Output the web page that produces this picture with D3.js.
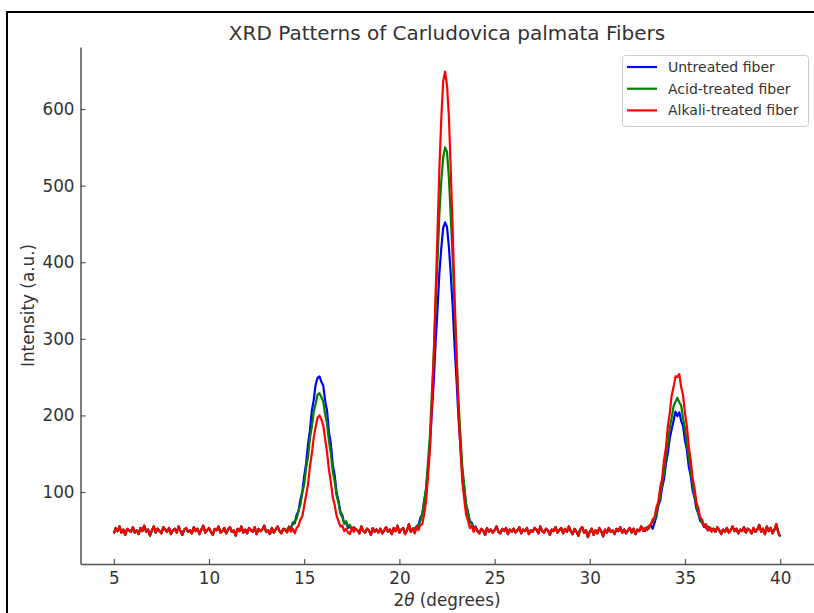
<!DOCTYPE html>
<html>
<head>
<meta charset="utf-8">
<script src="https://cdn.jsdelivr.net/npm/d3@7"></script>
<style>
  body { margin: 0; background: #fff; }
  svg { display: block; font-family: "DejaVu Sans", sans-serif; }
</style>
</head>
<body>
<svg id="chart"></svg>
<script>
const baseline = [
  46,53,49,55,47,51,44,52,50,48,
  54,47,50,45,53,49,56,48,51,43,
  50,55,47,52,49,46,54,51,48,53,
  45,50,52,47,55,49,44,51,53,48,
  50,46,54,49,52,45,51,56,47,50,
  53,48,44,52,50,55,47,49,53,46,
  51,54,48,50,43,52,49,55,47,51,
  46,53,50,48,54,45,52,49,51,56,
  48,50,45,53,47,51,55,49,46,52,
  50,47,54,48,52,45,51,49,53,47,
  49,52,46,51,48,53,50,45,54,47,
  51,48,53,46,50,55,49,52,44,50,
  53,47,51,49,45,54,48,52,50,46,
  55,49,47,52,50,44,53,48,51,47,
  52,46,50,54,48,51,45,53,49,56,
  47,51,53,45,50,58,48,52,46,55,
  49,53,47,51,50,54,48,52,46,50,
  51,47,53,49,45,52,50,54,48,51,
  46,52,49,55,47,50,53,45,51,48,
  54,49,46,52,50,44,53,48,51,47,
  50,55,48,46,52,49,53,45,51,48,
  52,47,50,54,46,51,49,53,45,50,
  48,53,51,46,55,49,47,52,50,44,
  51,49,54,47,50,53,46,52,48,55,
  49,45,52,48,43,51,54,47,50,41,
  48,52,44,50,46,53,49,42,51,47,
  53,48,50,45,52,49,54,47,51,46,
  50,53,47,52,45,51,49,55,48,52,
  47,51,49,53,46,50,52,48,54,49,
  51,48,53,47,50,52,49,46,53,50,
  52,49,47,53,50,46,51,48,55,50,
  47,53,49,51,46,52,48,54,50,45,
  51,48,53,47,50,55,49,52,46,51,
  49,54,47,52,50,46,53,48,51,57,
  48,52,45,55,49,53,46,51,58,47,
  42
];

// where each peak window starts (2theta), values below go in steps of 0.1
const peakStarts = [14.0, 20.8, 32.8];

const untreatedPeaks = [
  [51,48,55,52,60,59,70,75,90,100,121,137,162,180,206,220,240,249,251,244,239,219,206,178,163,136,122,99,89,74,70,59,60,53,56,50,54],
  [52,55,57,66,71,88,103,131,160,203,243,295,338,386,418,445,452,446,420,383,342,290,247,198,163,127,106,84,74,62,60,53,55],
  [51,49,53,55,57,52,60,68,82,89,106,117,137,151,170,182,193,205,199,204,193,186,167,155,133,121,102,93,78,72,62,61,54,56,50,53,49]
];
const acidPeaks = [
  [52,49,54,53,58,62,65,76,83,99,110,131,146,170,185,205,215,227,229,224,218,201,189,166,150,127,114,95,86,72,67,59,62,55,57,50,53],
  [53,51,56,62,71,88,105,138,173,225,277,343,401,463,506,537,550,544,510,458,405,339,281,221,177,134,109,84,73,61,58,52,54],
  [52,50,54,52,58,61,64,72,85,94,111,125,147,162,184,197,212,218,223,217,213,196,183,162,147,126,112,94,84,71,67,59,58,53,55,50,52]
];
const alkaliPeaks = [
  [50,47,54,48,52,46,53,56,64,68,82,96,110,133,150,171,185,197,200,195,187,169,152,129,113,93,83,69,62,55,56,49,52,47,45,54,48],
  [46,55,50,57,58,71,88,119,154,211,275,357,437,522,588,636,649,631,590,518,441,353,279,207,158,115,92,71,63,53,56,48,54],
  [49,53,50,56,57,64,67,80,87,106,118,142,158,186,203,226,237,251,250,254,237,226,203,186,159,142,118,105,86,79,66,64,55,58,50,54,48]
];

const seriesNames = ["Untreated fiber", "Acid-treated fiber", "Alkali-treated fiber"];
const seriesColors = ["blue", "green", "red"];
const xTicks = [5, 10, 15, 20, 25, 30, 35, 40];
const yTicks = [100, 200, 300, 400, 500, 600];

const thetaStart = 5, thetaStep = 0.1;

function buildSeries(peaks) {
    const values = baseline.slice();
    peaks.forEach((p, k) => {
        const offset = Math.round((peakStarts[k] - thetaStart) / thetaStep);
        p.forEach((v, j) => { values[offset + j] = v; });
    });
    return values.map((v, i) => [thetaStart + i * thetaStep, v]);
}

const series = [untreatedPeaks, acidPeaks, alkaliPeaks].map(buildSeries);

const WIDTH = 814, HEIGHT = 613;
const svg = d3.select("#chart")
    .attr("width", WIDTH)
    .attr("height", HEIGHT);

svg.append("rect")
    .attr("width", WIDTH)
    .attr("height", HEIGHT)
    .attr("fill", "#fff");

// screenshot frame
svg.append("path")
    .attr("d", "M7,613V12H814")
    .attr("fill", "none")
    .attr("stroke", "#000")
    .attr("stroke-width", 2);

const xScale = d3.scaleLinear()
    .domain([3.25, 41.75])
    .range([80.5, 813.5]);

const yScale = d3.scaleLinear()
    .domain([6, 681])
    .range([564, 47]);

const line = d3.line()
    .x(d => xScale(d[0]))
    .y(d => yScale(d[1]));

svg.append("g")
    .selectAll("path")
    .data(series)
    .enter()
    .append("path")
    .attr("d", line)
    .attr("fill", "none")
    .attr("stroke", (d, i) => seriesColors[i])
    .attr("stroke-width", 2.2)
    .attr("stroke-linejoin", "round");

// axes, ticks point inward
const xAxis = svg.append("g")
    .attr("transform", "translate(0,564)")
    .call(d3.axisBottom(xScale).tickValues(xTicks).tickSizeInner(-5).tickSizeOuter(0).tickPadding(8));

const yAxis = svg.append("g")
    .attr("transform", "translate(80.5,0)")
    .call(d3.axisLeft(yScale).tickValues(yTicks).tickSizeInner(-5).tickSizeOuter(0).tickPadding(6));

[xAxis, yAxis].forEach(ax => {
    ax.select(".domain").attr("stroke", "#555").attr("stroke-width", 1.5);
    ax.selectAll(".tick line").attr("stroke", "#555").attr("stroke-width", 1.2);
    ax.selectAll(".tick text")
        .attr("fill", "#333")
        .style("font-size", "16.8px")
        .style("font-family", "DejaVu Sans, sans-serif");
});

svg.append("text")
    .attr("x", 447)
    .attr("y", 40)
    .attr("text-anchor", "middle")
    .attr("fill", "#333")
    .style("font-size", "20px")
    .text("XRD Patterns of Carludovica palmata Fibers");

const xLabel = svg.append("text")
    .attr("x", 447)
    .attr("y", 606)
    .attr("text-anchor", "middle")
    .attr("fill", "#333")
    .style("font-size", "16.8px");
xLabel.append("tspan").text("2");
xLabel.append("tspan").style("font-style", "italic").text("θ");
xLabel.append("tspan").text(" (degrees)");

svg.append("text")
    .attr("transform", "translate(34,305.5) rotate(-90)")
    .attr("text-anchor", "middle")
    .attr("fill", "#333")
    .style("font-size", "16.8px")
    .text("Intensity (a.u.)");

// legend
const legend = svg.append("g");
legend.append("rect")
    .attr("x", 622.5)
    .attr("y", 55.5)
    .attr("width", 186)
    .attr("height", 71)
    .attr("rx", 3)
    .attr("fill", "#fff")
    .attr("fill-opacity", 0.8)
    .attr("stroke", "#ccc");

const items = legend.selectAll("g.item")
    .data(seriesNames)
    .enter()
    .append("g")
    .attr("class", "item")
    .attr("transform", (d, i) => `translate(0,${67 + i * 21.7})`);

items.append("line")
    .attr("x1", 627)
    .attr("x2", 657)
    .attr("stroke", (d, i) => seriesColors[i])
    .attr("stroke-width", 2.2);

items.append("text")
    .attr("x", 668)
    .attr("y", 5)
    .attr("fill", "#333")
    .style("font-size", "14px")
    .text(d => d);
</script>
</body>
</html>
